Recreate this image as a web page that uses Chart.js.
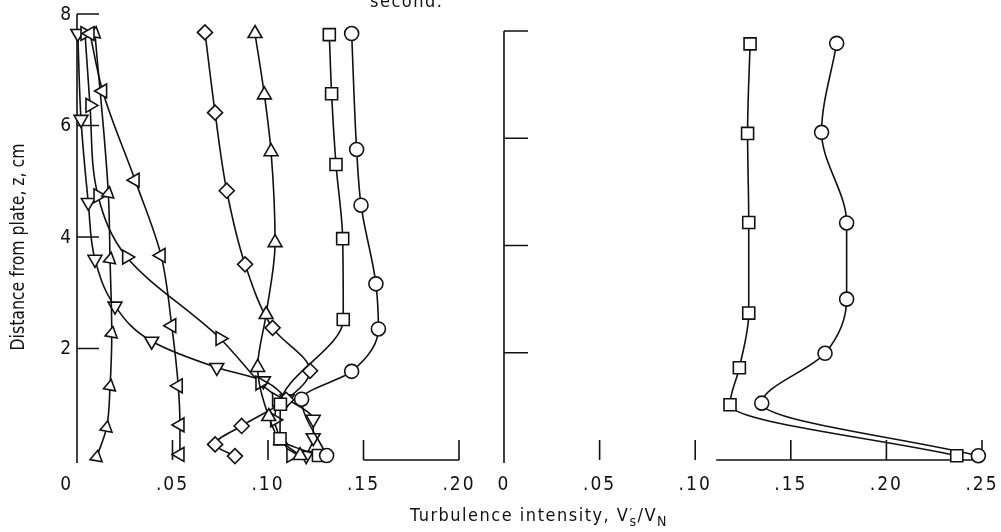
<!DOCTYPE html>
<html>
<head>
<meta charset="utf-8">
<title>Turbulence intensity profiles</title>
<script src="https://cdn.jsdelivr.net/npm/chart.js@4.4.1/dist/chart.umd.min.js"></script>
<style>
  html, body { margin: 0; padding: 0; background: #fff; }
  #wrap { position: relative; width: 1001px; height: 532px; overflow: hidden; }
  #wrap canvas { position: absolute; left: 0; top: 0; }
</style>
</head>
<body>
<div id="wrap">
  <canvas id="left-chart" width="1001" height="532"></canvas>
  <canvas id="right-chart" width="1001" height="532"></canvas>
</div>
<script>
// ---- data (x = turbulence intensity, z = distance from plate, cm) ----

// left panel
const leftCircleX = [0.1438, 0.1464, 0.1487, 0.1565, 0.1578, 0.1438, 0.1176, 0.1307];
const leftCircleZ = [7.65, 5.57, 4.57, 3.16, 2.35, 1.59, 1.09, 0.08];
const leftSquareX = [0.1321, 0.1333, 0.1356, 0.1391, 0.1394, 0.1065, 0.1063, 0.1264];
const leftSquareZ = [7.63, 6.57, 5.30, 3.97, 2.52, 1.00, 0.38, 0.08];
const leftTriUpX = [0.0932, 0.0981, 0.1016, 0.1037, 0.0990, 0.0946, 0.1004, 0.1066, 0.1168];
const leftTriUpZ = [7.65, 6.55, 5.53, 3.90, 2.61, 1.66, 0.78, 0.35, 0.08];
const leftDiamondX = [0.0670, 0.0723, 0.0784, 0.0880, 0.1024, 0.1220, 0.1095, 0.0862, 0.0723, 0.0827];
const leftDiamondZ = [7.67, 6.23, 4.83, 3.51, 2.37, 1.60, 1.08, 0.61, 0.28, 0.07];
const leftTriLeftX = [0.0068, 0.0134, 0.0304, 0.0440, 0.0496, 0.0530, 0.0539, 0.0539];
const leftTriLeftZ = [7.65, 6.62, 5.02, 3.67, 2.41, 1.33, 0.63, 0.10];
const leftFlagLeftX = [0.0094, 0.0164, 0.0173, 0.0182, 0.0173, 0.0155, 0.0103];
const leftFlagLeftZ = [7.65, 4.78, 3.60, 2.27, 1.32, 0.58, 0.05];
const leftTriRightX = [0.0042, 0.0068, 0.0110, 0.0260, 0.0749, 0.0958, 0.1045, 0.1035, 0.1120];
const leftTriRightZ = [7.65, 6.36, 4.74, 3.64, 2.18, 1.38, 1.08, 0.72, 0.08];
const leftTriDownX = [0.0004, 0.0021, 0.0059, 0.0094, 0.0199, 0.0391, 0.0732, 0.0976, 0.1100, 0.1237, 0.1237, 0.1200];
const leftTriDownZ = [7.65, 6.11, 4.62, 3.60, 2.76, 2.13, 1.66, 1.42, 1.10, 0.73, 0.40, 0.08];

// right panel
const rightSquareX = [0.1287, 0.1274, 0.1280, 0.1280, 0.1231, 0.1182, 0.2368];
const rightSquareZ = [7.76, 6.09, 4.43, 2.74, 1.72, 1.03, 0.08];
const rightCircleX = [0.1740, 0.1661, 0.1792, 0.1792, 0.1679, 0.1348, 0.2481];
const rightCircleZ = [7.77, 6.11, 4.42, 3.00, 1.99, 1.06, 0.08];

// axes
const leftXTicks = [0, 0.05, 0.10, 0.15, 0.20];
const leftXLabels = ['0', '.05', '.10', '.15', '.20'];
const rightXTicks = [0, 0.05, 0.10, 0.15, 0.20, 0.25];
const rightXLabels = ['0', '.05', '.10', '.15', '.20', '.25'];
const zTicks = [2, 4, 6, 8];
const zLabels = ['2', '4', '6', '8'];

const FONT = '"Liberation Sans Narrow", "DejaVu Sans Condensed", "Liberation Sans", sans-serif';
const INK = '#111';

const toPoints = (xs, zs) => xs.map((x, i) => ({ x: x, y: zs[i] }));

/**
 * One profile curve with its marker style
 */
function series(xs, zs, style, radius, rotation) {
  return {
    data: toPoints(xs, zs),
    showLine: true,
    borderColor: INK,
    borderWidth: 1.6,
    tension: 0.4,
    cubicInterpolationMode: 'monotone',
    pointStyle: style,
    pointRadius: radius,
    pointRotation: rotation || 0,
    pointBackgroundColor: '#fff',
    pointBorderColor: INK,
    pointBorderWidth: 1.6,
    clip: false
  };
}

/**
 * Draws the old-style partial axes: plain lines, inward ticks, labels
 */
const frameAxes = {
  id: 'frameAxes',
  beforeDatasetsDraw(chart, args, opts) {
    const { ctx } = chart;
    const xs = chart.scales.x;
    const ys = chart.scales.y;
    const x0 = xs.getPixelForValue(0);
    const zBase = ys.getPixelForValue(0);

    ctx.save();
    ctx.strokeStyle = INK;
    ctx.lineWidth = 1.6;
    ctx.beginPath();
    // vertical axis and its ticks
    ctx.moveTo(x0, zBase + 3);
    ctx.lineTo(x0, ys.getPixelForValue(8));
    opts.zTicks.forEach(z => {
      const py = ys.getPixelForValue(z);
      ctx.moveTo(x0, py);
      ctx.lineTo(x0 + opts.zTickLen, py);
    });
    // short upright ticks along the bottom
    opts.xTicks.forEach(v => {
      if (v === 0) return;
      const px = xs.getPixelForValue(v);
      ctx.moveTo(px, zBase);
      ctx.lineTo(px, zBase - 20);
    });
    // baseline piece
    ctx.moveTo(xs.getPixelForValue(opts.baseFrom), zBase);
    ctx.lineTo(xs.getPixelForValue(opts.baseTo), zBase);
    ctx.stroke();

    // tick labels
    ctx.fillStyle = INK;
    ctx.font = '19px ' + FONT;
    ctx.letterSpacing = '2px';
    ctx.textBaseline = 'middle';
    opts.xTicks.forEach((v, i) => {
      const px = xs.getPixelForValue(v);
      ctx.textAlign = (v === 0 && opts.zeroLeft) ? 'right' : 'center';
      ctx.fillText(opts.xLabels[i], v === 0 && opts.zeroLeft ? px - 4 : px, 485);
    });
    if (opts.zLabels) {
      ctx.textAlign = 'right';
      opts.zTicks.forEach((z, i) => {
        ctx.fillText(opts.zLabels[i], x0 - 4, ys.getPixelForValue(z) + 1);
      });
    }
    ctx.restore();
  }
};

/**
 * Shared titles, drawn once on the left canvas
 */
const titles = {
  id: 'titles',
  afterDraw(chart) {
    const { ctx } = chart;
    ctx.save();
    ctx.fillStyle = INK;
    ctx.font = '18px ' + FONT;
    ctx.letterSpacing = '1.5px';
    ctx.textBaseline = 'alphabetic';

    // cut-off caption line at the very top
    ctx.textAlign = 'left';
    ctx.fillText('second.', 370, 7);

    // y axis title, squeezed to the length it has in the figure
    const yTitle = 'Distance from plate, z, cm';
    ctx.save();
    ctx.font = '19px ' + FONT;
    ctx.letterSpacing = '0px';
    const w = ctx.measureText(yTitle).width;
    ctx.translate(24, 247);
    ctx.rotate(-Math.PI / 2);
    ctx.scale(207 / w, 1);
    ctx.textAlign = 'center';
    ctx.fillText(yTitle, 0, 0);
    ctx.restore();

    // x axis title: Turbulence intensity, V's/VN
    ctx.textAlign = 'left';
    const base = 521;
    let x = 410;
    const part = (t, size, dy) => {
      ctx.font = size + 'px ' + FONT;
      ctx.fillText(t, x, base + dy);
      return ctx.measureText(t).width;
    };
    x += part('Turbulence intensity, V', 18, 0);
    part('\u2032', 13, -4);
    x += part('s', 14, 5);
    x += part('/V', 18, 0);
    part('N', 14, 5);
    ctx.restore();
  }
};

function baseOptions(xMax, pad, axisOpts) {
  return {
    responsive: false,
    animation: false,
    indexAxis: 'y',
    layout: { padding: pad },
    scales: {
      x: { type: 'linear', min: 0, max: xMax, display: false },
      y: { type: 'linear', min: 0, max: 8, display: false }
    },
    plugins: {
      legend: { display: false },
      tooltip: { enabled: false },
      frameAxes: axisOpts
    }
  };
}

// ---- left panel ----
new Chart(document.getElementById('left-chart'), {
  type: 'scatter',
  data: {
    datasets: [
      series(leftCircleX, leftCircleZ, 'circle', 7),
      series(leftSquareX, leftSquareZ, 'rect', 8.5),
      series(leftTriUpX, leftTriUpZ, 'triangle', 8),
      series(leftDiamondX, leftDiamondZ, 'rectRot', 7.5),
      series(leftTriLeftX, leftTriLeftZ, 'triangle', 8, 270),
      series(leftFlagLeftX, leftFlagLeftZ, 'triangle', 7, 250),
      series(leftTriRightX, leftTriRightZ, 'triangle', 8, 90),
      series(leftTriDownX, leftTriDownZ, 'triangle', 8, 180)
    ]
  },
  options: baseOptions(0.20, { left: 77, right: 542, top: 14, bottom: 72 }, {
    zTicks: zTicks, zLabels: zLabels, zTickLen: 22,
    xTicks: leftXTicks, xLabels: leftXLabels, zeroLeft: true,
    baseFrom: 0.15, baseTo: 0.20
  }),
  plugins: [frameAxes, titles]
});

// ---- right panel ----
new Chart(document.getElementById('right-chart'), {
  type: 'scatter',
  data: {
    datasets: [
      series(rightSquareX, rightSquareZ, 'rect', 8.5),
      series(rightCircleX, rightCircleZ, 'circle', 7)
    ]
  },
  options: baseOptions(0.25, { left: 504, right: 19, top: 31, bottom: 72 }, {
    zTicks: zTicks, zLabels: null, zTickLen: 24,
    xTicks: rightXTicks, xLabels: rightXLabels, zeroLeft: false,
    baseFrom: 0.111, baseTo: 0.25
  }),
  plugins: [frameAxes]
});
</script>
</body>
</html>
